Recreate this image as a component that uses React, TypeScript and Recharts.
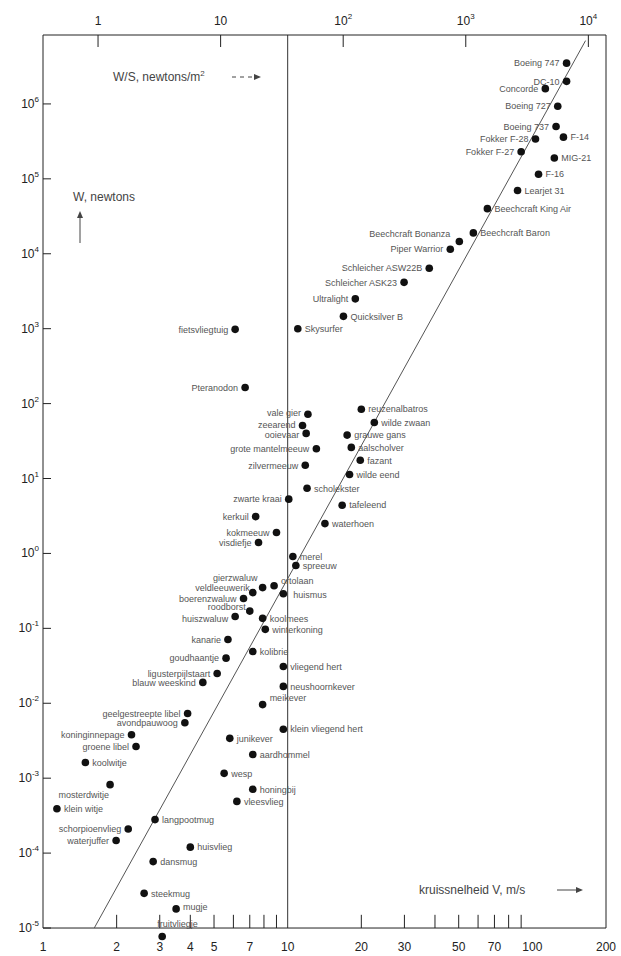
import React from "react";
import { ScatterChart, Scatter, XAxis, YAxis, ReferenceLine } from "recharts";

// vliegtuigen (incl. zweefvliegtuigen en ultralights)
const vliegtuigNamen = [
  "Boeing 747", "DC-10", "Concorde", "Boeing 727", "Boeing 737", "Fokker F-28", "F-14",
  "Fokker F-27", "MIG-21", "F-16", "Learjet 31", "Beechcraft King Air", "Beechcraft Baron",
  "Beechcraft Bonanza", "Piper Warrior", "Schleicher ASW22B", "Schleicher ASK23", "Ultralight",
  "Quicksilver B", "Skysurfer", "fietsvliegtuig",
];
const vliegtuigV = [138, 138, 113, 127, 125, 103, 134, 90, 123, 106, 87, 65.5, 57.4, 50.3, 46.2, 37.9, 29.9, 18.9, 16.9, 11.0, 6.1];
const vliegtuigW = [3.5e6, 2.0e6, 1.6e6, 9.3e5, 5.0e5, 3.4e5, 3.6e5, 2.3e5, 1.9e5, 1.15e5, 7.0e4, 4.0e4, 1.9e4, 1.46e4, 1.15e4, 6.4e3, 4.15e3, 2.5e3, 1.46e3, 1.0e3, 980];

// vogels
const vogelNamen = [
  "Pteranodon", "reuzenalbatros", "wilde zwaan", "vale gier", "zeearend", "ooievaar",
  "grote mantelmeeuw", "grauwe gans", "aalscholver", "fazant", "wilde eend", "zilvermeeuw",
  "scholekster", "zwarte kraai", "tafeleend", "waterhoen", "kerkuil", "kokmeeuw", "visdiefje",
  "merel", "spreeuw", "gierzwaluw", "ortolaan", "veldleeuwerik", "boerenzwaluw", "huismus",
  "roodborst", "huiszwaluw", "koolmees", "winterkoning", "kanarie", "goudhaantje", "kolibrie",
];
const vogelV = [6.7, 20, 22.6, 12.1, 11.5, 11.9, 13.1, 17.5, 18.2, 19.8, 17.9, 11.8, 12.0, 10.1, 16.7, 14.2, 7.4, 9.0, 7.6, 10.5, 10.8, 7.9, 8.8, 7.2, 6.6, 9.6, 7.0, 6.1, 7.9, 8.1, 5.7, 5.6, 7.2];
const vogelW = [164, 84, 56, 72, 51, 40, 25, 38, 26, 17.5, 11.3, 15, 7.4, 5.3, 4.4, 2.5, 3.1, 1.9, 1.4, 0.91, 0.69, 0.35, 0.37, 0.3, 0.25, 0.29, 0.17, 0.144, 0.136, 0.097, 0.071, 0.04, 0.049];

// insecten
const insectNamen = [
  "vliegend hert", "neushoornkever", "meikever", "ligusterpijlstaart", "blauw weeskind",
  "geelgestreepte libel", "avondpauwoog", "koninginnepage", "groene libel", "klein vliegend hert",
  "junikever", "aardhommel", "wesp", "honingbij", "vleesvlieg", "koolwitje", "mosterdwitje",
  "klein witje", "langpootmug", "schorpioenvlieg", "waterjuffer", "huisvlieg", "dansmug",
  "steekmug", "mugje", "fruitvliegje",
];
const insectV = [9.6, 9.6, 7.9, 5.15, 4.5, 3.9, 3.8, 2.3, 2.4, 9.6, 5.8, 7.2, 5.5, 7.2, 6.2, 1.49, 1.88, 1.14, 2.87, 2.23, 1.99, 4.0, 2.82, 2.59, 3.5, 3.07];
const insectW = [0.031, 0.0168, 0.0096, 0.025, 0.019, 0.0073, 0.0055, 0.0038, 0.00265, 0.0045, 0.0034, 0.00207, 0.00116, 7.1e-4, 4.9e-4, 1.62e-3, 8.2e-4, 3.9e-4, 2.8e-4, 2.1e-4, 1.47e-4, 1.2e-4, 7.7e-5, 2.9e-5, 1.8e-5, 7.7e-6];

// W ~ V^6 lijn
const lijnV = [1.62, 165];
const lijnW = [1e-5, 7.0e6];

const vTicks = [1, 2, 3, 4, 5, 7, 10, 20, 30, 50, 70, 100, 200];
const vMinor = [2, 3, 4, 5, 6, 7, 8, 9, 20, 30, 40, 50, 60, 70, 80, 90];
const wTicks = [1e-5, 1e-4, 1e-3, 1e-2, 1e-1, 1, 10, 100, 1e3, 1e4, 1e5, 1e6];
const wsTicks = [1, 10, 100, 1000, 10000];

const rechts = new Set([
  "F-14", "MIG-21", "F-16", "Learjet 31", "Beechcraft King Air", "Beechcraft Baron", "Quicksilver B",
  "Skysurfer", "reuzenalbatros", "wilde zwaan", "grauwe gans", "aalscholver", "fazant", "wilde eend",
  "scholekster", "tafeleend", "waterhoen", "merel", "spreeuw", "ortolaan", "huismus", "koolmees",
  "winterkoning", "kolibrie", "vliegend hert", "neushoornkever", "meikever", "klein vliegend hert",
  "junikever", "aardhommel", "wesp", "honingbij", "vleesvlieg", "koolwitje", "klein witje",
  "langpootmug", "huisvlieg", "dansmug", "steekmug", "mugje", "fruitvliegje",
]);
const labelShift: Record<string, [number, number]> = {
  "Beechcraft Bonanza": [-2, -8],
  "vale gier": [0, -1],
  zeearend: [0, -1],
  ooievaar: [0, 1],
  gierzwaluw: [2, -10],
  veldleeuwerik: [4, -5],
  ortolaan: [0, -5],
  huismus: [3, 1],
  roodborst: [3, -4],
  huiszwaluw: [0, 2],
  meikever: [0, -7],
  mosterdwitje: [6, 10],
  mugje: [0, -2],
  fruitvliegje: [-12, -13],
};

const FONT = "'Liberation Sans', Arial, sans-serif";
const INK = "#222";
const YMIN = Math.pow(10, -5.2);
const YMAX = Math.pow(10, 6.92);

const rows = (names: string[], v: number[], w: number[]) => names.map((name, i) => ({ name, v: v[i], w: w[i] }));
const wsRows = wsTicks.map((ws) => ({ ws, w: 1 }));

function Punt(props: any) {
  const { cx, cy } = props;
  const name = props.payload?.name ?? props.name;
  const right = rechts.has(name);
  const [dx, dy] = labelShift[name] ?? [0, 0];
  return (
    <g>
      <circle cx={cx} cy={cy} r={3.8} fill="#111" />
      <text
        x={cx + (right ? 7 : -7) + dx}
        y={cy + 3.2 + dy}
        textAnchor={right ? "start" : "end"}
        fontSize={9}
        fontFamily={FONT}
        fill="#555"
      >
        {name}
      </text>
    </g>
  );
}

const expOf = (value: number) => Math.round(Math.log10(value));

function WTick({ x, y, payload }: any) {
  return (
    <g>
      <line x1={x + 4} x2={x + 12} y1={y} y2={y} stroke={INK} />
      <text x={x} y={y + 4} textAnchor="end" fontSize={12} fontFamily={FONT} fill={INK}>
        10<tspan dy={-6} fontSize={8}>{expOf(payload.value)}</tspan>
      </text>
    </g>
  );
}

function VTick({ x, y, payload }: any) {
  return (
    <text x={x} y={y + 8} textAnchor="middle" fontSize={12} fontFamily={FONT} fill={INK}>
      {payload.value}
    </text>
  );
}

function WSTick({ x, y, payload }: any) {
  const e = expOf(payload.value);
  return (
    <g>
      <line x1={x} x2={x} y1={y} y2={y + 12} stroke={INK} />
      <text x={x} y={y - 10} textAnchor="middle" fontSize={12} fontFamily={FONT} fill={INK}>
        {e === 0 ? "1" : e === 1 ? "10" : <>10<tspan dy={-6} fontSize={8}>{e}</tspan></>}
      </text>
    </g>
  );
}

export default function App() {
  return (
    <div style={{ position: "absolute", top: 0, left: 0, width: 621, height: 956, background: "#fff" }}>
      <ScatterChart width={621} height={956} margin={{ top: 15, right: 15, bottom: 0, left: 0 }}>
        <XAxis
          xAxisId="v"
          dataKey="v"
          type="number"
          scale="log"
          domain={[1, 200]}
          allowDataOverflow
          ticks={vTicks}
          tick={<VTick />}
          tickLine={false}
          axisLine={false}
          tickSize={0}
          tickMargin={0}
          height={13}
        />
        <XAxis
          xAxisId="ws"
          dataKey="ws"
          orientation="top"
          type="number"
          scale="log"
          domain={[0.3556, 13932]}
          allowDataOverflow
          ticks={wsTicks}
          tick={<WSTick />}
          tickLine={false}
          axisLine={{ stroke: INK }}
          tickSize={0}
          tickMargin={0}
          height={20}
        />
        <YAxis
          dataKey="w"
          type="number"
          scale="log"
          domain={[YMIN, YMAX]}
          allowDataOverflow
          ticks={wTicks}
          tick={<WTick />}
          tickLine={false}
          axisLine={false}
          tickSize={0}
          tickMargin={4}
          width={43}
        />
        <ReferenceLine xAxisId="v" segment={[{ x: 1, y: 1e-5 }, { x: 1, y: YMAX }]} stroke={INK} />
        <ReferenceLine xAxisId="v" segment={[{ x: 200, y: 1e-5 }, { x: 200, y: YMAX }]} stroke={INK} />
        <ReferenceLine xAxisId="v" segment={[{ x: 10, y: 1e-5 }, { x: 10, y: YMAX }]} stroke="#333" />
        <ReferenceLine xAxisId="v" y={1e-5} stroke={INK} />
        {vMinor.map((t) => (
          <ReferenceLine key={t} xAxisId="v" segment={[{ x: t, y: 1e-5 }, { x: t, y: 1.5e-5 }]} stroke={INK} />
        ))}
        <ReferenceLine
          xAxisId="v"
          segment={[{ x: lijnV[0], y: lijnW[0] }, { x: lijnV[1], y: lijnW[1] }]}
          stroke="#555"
        />
        {/* onzichtbare reeks zodat de W/S-as een schaal krijgt */}
        <Scatter xAxisId="ws" data={wsRows} shape={() => <g />} isAnimationActive={false} />
        <Scatter xAxisId="v" data={rows(vliegtuigNamen, vliegtuigV, vliegtuigW)} shape={<Punt />} isAnimationActive={false} />
        <Scatter xAxisId="v" data={rows(vogelNamen, vogelV, vogelW)} shape={<Punt />} isAnimationActive={false} />
        <Scatter xAxisId="v" data={rows(insectNamen, insectV, insectW)} shape={<Punt />} isAnimationActive={false} />
      </ScatterChart>
      <svg width={621} height={956} style={{ position: "absolute", top: 0, left: 0, pointerEvents: "none" }}>
        <g fontFamily={FONT} fontSize={12} fill="#444">
          <text x={113} y={81}>
            W/S, newtons/m<tspan dy={-5} fontSize={8}>2</tspan>
          </text>
          <line x1={232} x2={254} y1={77} y2={77} stroke="#444" strokeDasharray="4 4" />
          <path d="M254 74 L261 77 L254 80 Z" fill="#444" />
          <text x={73} y={201}>W, newtons</text>
          <line x1={80} x2={80} y1={243} y2={216} stroke="#444" />
          <path d="M77 218 L80 211 L83 218 Z" fill="#444" />
          <text x={419} y={894}>kruissnelheid V, m/s</text>
          <line x1={557} x2={578} y1={890} y2={890} stroke="#444" />
          <path d="M576 887 L583 890 L576 893 Z" fill="#444" />
        </g>
      </svg>
    </div>
  );
}
